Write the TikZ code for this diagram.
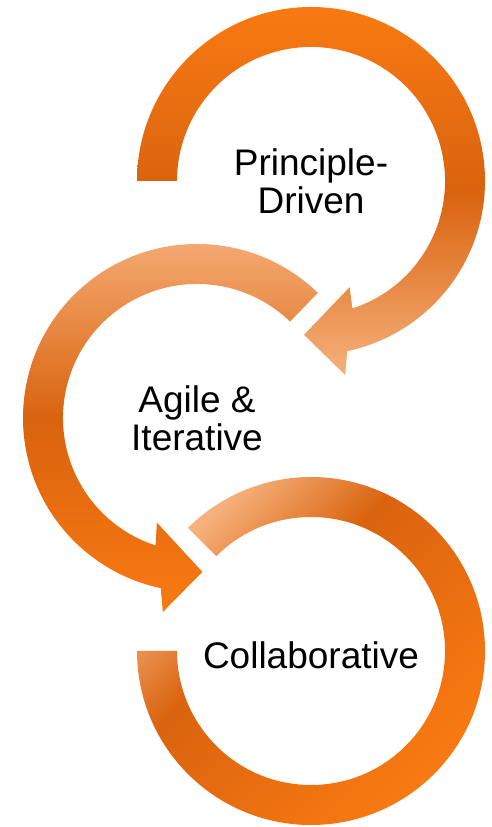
\documentclass[tikz,border=0pt]{standalone}
\usepackage{fontspec}
\setmainfont{Liberation Sans}
\definecolor{orbright}{HTML}{F97A12}
\definecolor{ordark}{HTML}{D9630E}
\definecolor{orlight}{HTML}{F6B07B}
\pgfdeclareverticalshading{ringthree}{100bp}{color(0bp)=(orbright); color(25bp)=(orbright);
  color(58bp)=(ordark); color(74bp)=(orlight); color(100bp)=(orlight)}
\begin{document}
\begin{tikzpicture}[
    x=1pt,y=1pt,
    lbl/.style={font=\fontsize{37}{38}\selectfont,align=center,inner sep=0pt},
    ringdown/.style={top color=orbright,bottom color=orlight,middle color=ordark},
    ringup/.style={top color=orlight,bottom color=orbright,middle color=ordark},
    ringdiag/.style={shade,shading=ringthree,shading angle=45}
    ]
    \useasboundingbox (0,0) rectangle (491,827);
    \coordinate (c1) at (311,646);
    \coordinate (c2) at (197,409);
    \coordinate (c3) at (311,176);
    \begin{scope}[shift={(c1)}]
      \path[ringdown] (180:134) -- (180:174) arc[start angle=180,end angle=-78,radius=174]
        -- (-80:197) -- (-92.6:154) -- (-70:113) -- (-72:134)
        arc[start angle=-72,end angle=180,radius=134] -- cycle;
    \end{scope}
    \begin{scope}[shift={(c2)}]
      \path[ringup] (46:134) -- (46:174) arc[start angle=46,end angle=258,radius=174]
        -- (260:197) -- (272:154) -- (249:112) -- (252:134)
        arc[start angle=252,end angle=46,radius=134] -- cycle;
    \end{scope}
    \begin{scope}[shift={(c3)}]
      \path[ringdiag] (180:134) -- (180:174) arc[start angle=180,end angle=495,radius=174]
        -- (495:134) arc[start angle=495,end angle=180,radius=134] -- cycle;
    \end{scope}
    \node[lbl] (princ) at (c1) {Principle-\\Driven};
    \node[lbl] (agile) at (c2) {Agile \&\\Iterative};
    \node[lbl,yshift=-4pt] (collab) at (c3) {Collaborative};
\end{tikzpicture}
\end{document}
